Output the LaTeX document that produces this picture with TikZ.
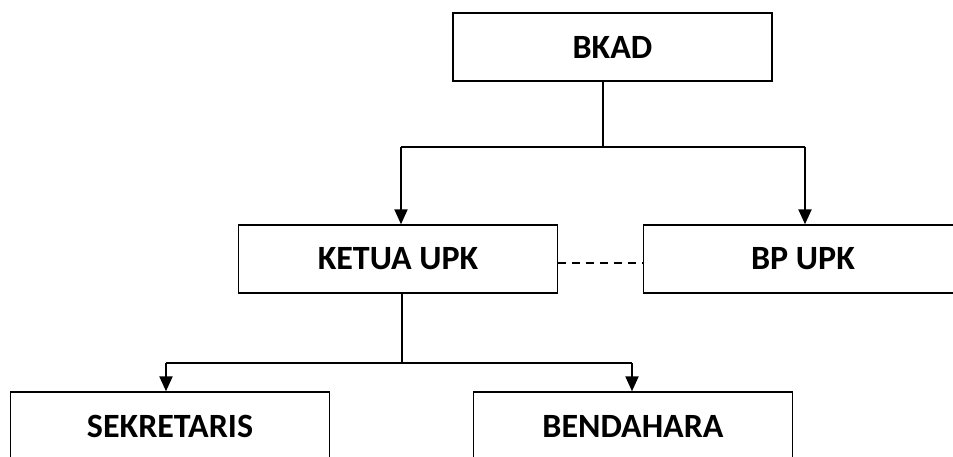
\documentclass[tikz,border=0pt]{standalone}
\usepackage{fontspec}
\setmainfont{Carlito}
\usetikzlibrary{arrows.meta}
\begin{document}
\begin{tikzpicture}[x=1pt,y=-1pt,
  box/.style={draw=black,line width=1.4pt,minimum width=319pt,minimum height=68pt,inner sep=0pt,
    font=\fontsize{34}{40}\selectfont\bfseries},
  bar/.style={line width=1.3pt},
  arr/.style={line width=2.2pt,-{Triangle[length=15pt,width=13pt]}},
  stem/.style={line width=1.5pt}]
\useasboundingbox (0,0) rectangle (953,457);
\clip (0,0) rectangle (953,457);
\node[box] (bkad) at (612.5,47) {BKAD};
\node[box] (ketua) at (398,259) {KETUA UPK};
\node[box] (bp) at (803,259) {BP UPK};
\node[box] (sek) at (170,426) {SEKRETARIS};
\node[box] (ben) at (633,426) {BENDAHARA};
% top connectors
\coordinate (j1) at (603,147);
\coordinate (l1) at (401,147);
\coordinate (r1) at (805,147);
\draw[stem] (bkad.south -| j1) -- (j1);
\draw[bar] (l1) -- (r1);
\draw[arr] (l1) -- (ketua.north -| l1);
\draw[arr] (r1) -- (bp.north -| r1);
% dashed
\draw[line width=1.3pt,dash pattern=on 8pt off 6pt] ([yshift=-4pt]ketua.east) -- ([yshift=-4pt]bp.west);
% lower connectors
\coordinate (j2) at (402,363);
\coordinate (l2) at (166,363);
\coordinate (r2) at (632,363);
\draw[stem] (ketua.south -| j2) -- (j2);
\draw[bar] (l2) -- (r2);
\draw[arr] (l2) -- (sek.north -| l2);
\draw[arr] (r2) -- (ben.north -| r2);
\end{tikzpicture}
\end{document}
